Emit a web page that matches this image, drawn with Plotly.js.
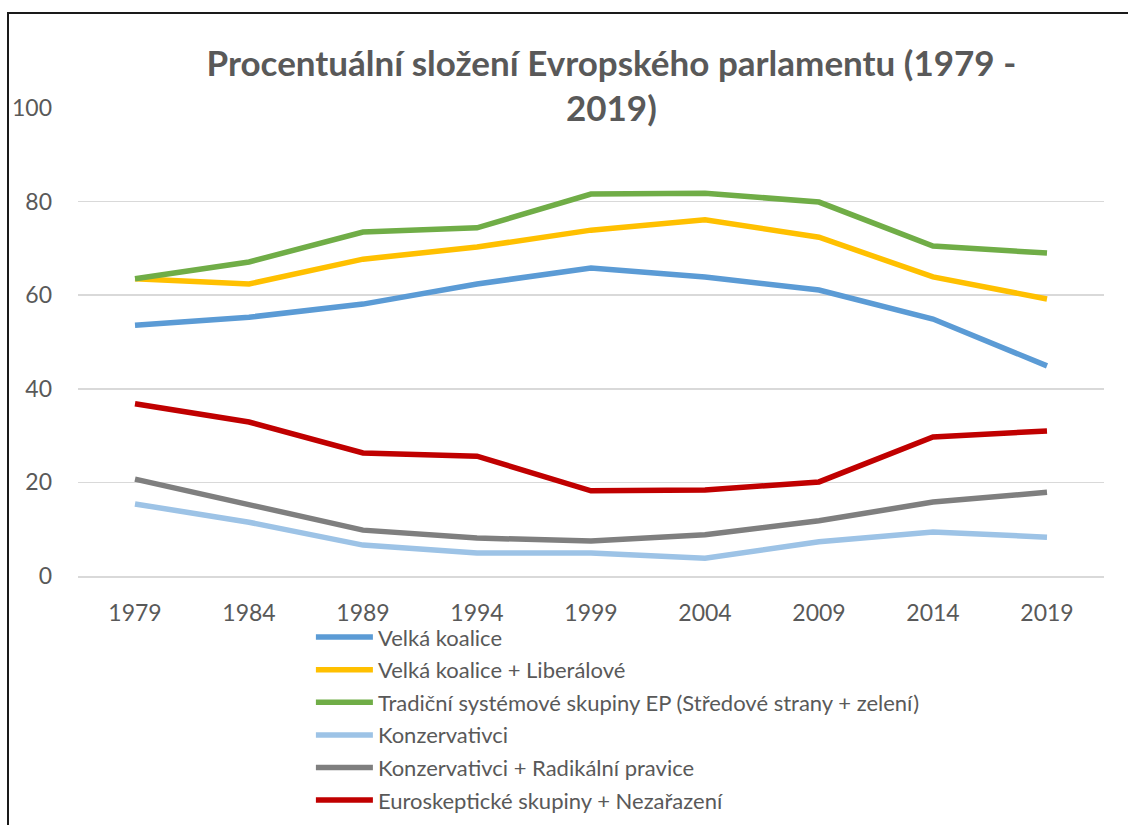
<!DOCTYPE html>
<html>
<head>
<meta charset="utf-8">
<script src="https://cdn.plot.ly/plotly-3.0.1.min.js"></script>
<style>
html,body{margin:0;padding:0;overflow:hidden;background:#fff;}
#chart{width:1128px;height:825px;position:absolute;left:0;top:0;}
#frame{position:absolute;left:7px;top:12px;width:1200px;height:900px;border:2px solid #1a1a1a;pointer-events:none;}
</style>
</head>
<body>
<div id="chart"></div>
<div id="frame"></div>
<script>
const years = ['1979','1984','1989','1994','1999','2004','2009','2014','2019'];
const names = [
  'Velká koalice',
  'Velká koalice + Liberálové',
  'Tradiční systémové skupiny EP (Středové strany + zelení)',
  'Konzervativci',
  'Konzervativci + Radikální pravice',
  'Euroskeptické skupiny + Nezařazení'
];
const velkaKoalice = [53.6, 55.3, 58.1, 62.4, 65.8, 63.9, 61.1, 54.9, 44.9];
const velkaKoaliceLiberalove = [63.5, 62.4, 67.7, 70.3, 73.9, 76.1, 72.4, 63.9, 59.2];
const tradicniSkupiny = [63.5, 67.1, 73.5, 74.4, 81.6, 81.8, 79.9, 70.5, 69.0];
const konzervativci = [15.4, 11.5, 6.6, 4.9, 4.9, 3.8, 7.3, 9.4, 8.3];
const konzervativciRadikalni = [20.7, 15.2, 9.8, 8.1, 7.5, 8.8, 11.8, 15.8, 17.9];
const euroskeptici = [36.8, 32.9, 26.3, 25.6, 18.2, 18.4, 20.1, 29.7, 31.0];

const series = [velkaKoalice, velkaKoaliceLiberalove, tradicniSkupiny, konzervativci, konzervativciRadikalni, euroskeptici];
const colors = ['#5B9BD5', '#FFC000', '#70AD47', '#9DC3E6', '#7F7F7F', '#C00000'];

const FONT = 'Lato, "Open Sans", sans-serif';
const traces = series.map((vals, i) => ({
  type: 'scatter',
  mode: 'lines',
  x: years,
  y: vals,
  name: names[i],
  legendgroup: 'g' + i,
  line: {color: colors[i], width: 5.5}
}));

const layout = {
  width: 1128,
  height: 825,
  margin: {l: 78, r: 24, t: 108, b: 249},
  paper_bgcolor: '#ffffff',
  plot_bgcolor: '#ffffff',
  font: {family: FONT, color: '#595959', size: 22},
  title: {
    text: 'Procentuální složení Evropského parlamentu (1979 -<br>2019)',
    font: {family: FONT, size: 35, color: '#595959', weight: 'bold'},
    x: 0.542, xref: 'container', xanchor: 'center',
    y: 0.908, yref: 'container', yanchor: 'middle'
  },
  xaxis: {
    type: 'category',
    range: [-0.5, 8.5],
    showgrid: false,
    showline: true,
    linecolor: '#d9d9d9',
    linewidth: 1.5,
    ticks: '',
    ticklabelstandoff: 16,
    tickfont: {size: 23, color: '#595959'},
    fixedrange: true
  },
  yaxis: {
    range: [0, 100],
    tickvals: [0, 20, 40, 60, 80, 100],
    showgrid: true,
    gridcolor: '#d9d9d9',
    gridwidth: 1.5,
    zeroline: false,
    showline: false,
    ticks: '',
    ticklabelstandoff: 25,
    tickfont: {size: 23, color: '#595959'},
    fixedrange: true
  },
  showlegend: true,
  legend: {
    x: 0.227, xref: 'paper', xanchor: 'left',
    y: 0.253, yref: 'container', yanchor: 'top',
    orientation: 'v',
    itemwidth: 57,
    tracegroupgap: 1,
    font: {size: 22, color: '#595959', family: FONT},
    bgcolor: 'rgba(0,0,0,0)',
    itemclick: false, itemdoubleclick: false
  }
};

Plotly.newPlot('chart', traces, layout, {displayModeBar: false, staticPlot: true});
</script>
</body>
</html>
